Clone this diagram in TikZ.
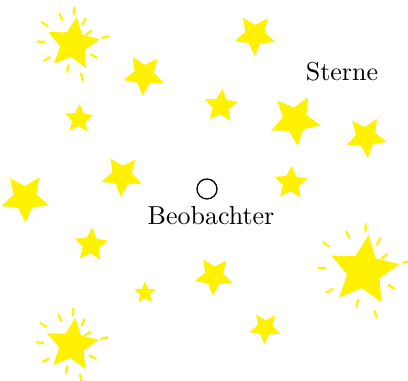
\documentclass[tikz,border=0pt]{standalone}
\usetikzlibrary{shapes.geometric,calc}
\begin{document}
\begin{tikzpicture}[x=0.385pt,y=0.385pt,
  starn/.style={star, star points=5, star point ratio=2.1, fill=yellow, draw=none, inner sep=0pt},
  ray/.style={yellow, line width=0.85pt, line cap=round},
  lbl/.style={inner sep=0pt, font=\normalsize}]
\useasboundingbox (0,0) rectangle (408,381);
% stars: name, x, y (image px), outer radius px, rotation
\foreach \n/\x/\y/\r/\rot in {
  s1/73/44/22/-8, s2/144/75/17/32, s3/255/35/17/35, s4/79/119/12/-3,
  s5/221/106/14/-5, s6/295/120/21/42, s7/366/137/17/41, s8/122/176/17/33,
  s9/291/183/14/-3, s10/25/198/20/37, s11/91/245/14/-4, s12/214/276/16/33,
  s13/145/293/9/0, s14/364/271/29/-7, s15/265/328/13/33, s16/72/345/22/-7}{
  \node[starn, minimum size={\r*0.96pt}, rotate=\rot] (\n) at (\x,381-\y) {};
}
% sparkle rays around the three bright stars
\foreach \c/\s in {s1/1, s16/1, s14/1.32}{
  \foreach \a/\d in {88/33,114/30,64/25,145/35,36/19,12/33,176/32,-30/24,210/30,258/25,285/34}{
    \draw[ray] ($(\c.center)+(\a:{\s*\d-3.5})$) -- ($(\c.center)+(\a:{\s*\d+3.5})$);
  }
}
\node[circle, draw, line width=0.5pt, minimum size=7.7pt, inner sep=0pt] (obs) at (207,381-189) {};
\node[lbl] (beob) at (211,381-216) {Beobachter};
\node[lbl] (sterne) at (342,381-72) {Sterne};
\end{tikzpicture}
\end{document}
